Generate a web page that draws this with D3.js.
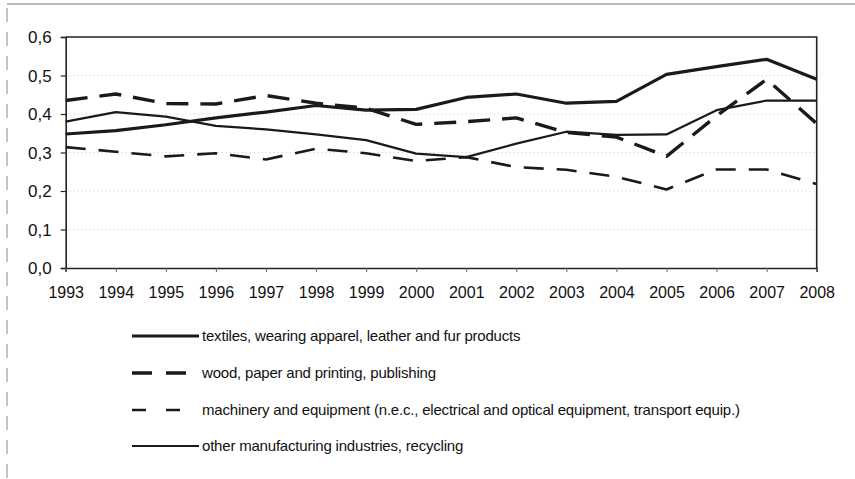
<!DOCTYPE html>
<html><head><meta charset="utf-8">
<script src="https://cdn.jsdelivr.net/npm/d3@7"></script>
<style>body{margin:0;background:#fff;} svg{display:block;font-family:Arial,"Liberation Sans",sans-serif;}</style>
</head><body>
<svg id="c" width="855" height="479"></svg>
<script>
const years = [1993,1994,1995,1996,1997,1998,1999,2000,2001,2002,2003,2004,2005,2006,2007,2008];
const textiles = [0.348,0.357,0.372,0.390,0.405,0.422,0.410,0.412,0.443,0.452,0.428,0.433,0.503,0.523,0.542,0.490];
const wood = [0.435,0.452,0.427,0.426,0.448,0.428,0.415,0.373,0.380,0.390,0.352,0.340,0.290,0.395,0.490,0.375];
const machinery = [0.314,0.302,0.290,0.298,0.282,0.310,0.298,0.278,0.288,0.262,0.255,0.237,0.204,0.256,0.256,0.218];
const other = [0.380,0.405,0.393,0.369,0.360,0.347,0.332,0.297,0.288,0.323,0.354,0.346,0.347,0.410,0.435,0.435];
const yTicks = [0,0.1,0.2,0.3,0.4,0.5,0.6];
const seriesNames = ["textiles, wearing apparel, leather and fur products","wood, paper and printing, publishing","machinery and equipment (n.e.c., electrical and optical equipment, transport equip.)","other manufacturing industries, recycling"];

const series = [
  {name:seriesNames[0], values:textiles, w:3.2, dash:null, ldash:null},
  {name:seriesNames[1], values:wood, w:3.4, dash:"22,12", ldash:"20,14"},
  {name:seriesNames[2], values:machinery, w:2.6, dash:"20,13", ldash:"14,20"},
  {name:seriesNames[3], values:other, w:2.2, dash:null, ldash:null}
];

const svg = d3.select("#c");
const L=65.7, R=816.7, T=37, B=268;
const x = d3.scaleLinear().domain([years[0], years[years.length-1]]).range([L,R]);
const y = d3.scaleLinear().domain([0,0.6]).range([B,T]);

// page frame artifacts
svg.append("line").attr("x1",7).attr("x2",855).attr("y1",4).attr("y2",4).attr("stroke","#777").attr("stroke-width",1.2);
svg.append("line").attr("x1",7).attr("x2",7).attr("y1",8).attr("y2",479).attr("stroke","#888").attr("stroke-width",1).attr("stroke-dasharray","14,10");

// gridlines
svg.append("g").selectAll("line").data(yTicks.filter(d=>d>0&&d<0.6)).join("line")
  .attr("x1",L).attr("x2",R).attr("y1",d=>y(d)).attr("y2",d=>y(d))
  .attr("stroke","#bbb").attr("stroke-width",0.8).attr("stroke-dasharray","1,3");

// frame top/right
svg.append("path").attr("d",`M${L},${T}H${R}V${B}`).attr("fill","none").attr("stroke","#222").attr("stroke-width",1.6);

// axes
const yAxis = d3.axisLeft(y).tickValues(yTicks).tickSize(5).tickPadding(9).tickFormat(d=>d3.format(".1f")(d).replace(".",","));
const gy = svg.append("g").attr("transform",`translate(${L},0)`).call(yAxis);
gy.select(".domain").attr("stroke","#222").attr("stroke-width",1.6);
gy.selectAll(".tick line").attr("stroke","#222").attr("stroke-width",1.2);
gy.selectAll("text").attr("font-size",17).attr("fill","#111").attr("font-family","Arial,'Liberation Sans',sans-serif").attr("dy","0.35em");

const xAxis = d3.axisBottom(x).tickValues(years).tickSize(4).tickPadding(15).tickFormat(d3.format("d"));
const gx = svg.append("g").attr("transform",`translate(0,${B})`).call(xAxis);
gx.select(".domain").attr("stroke","#222").attr("stroke-width",1.6);
gx.selectAll(".tick line").attr("stroke","#666").attr("stroke-width",1);
gx.selectAll("text").attr("font-size",16).attr("fill","#111").attr("font-family","Arial,'Liberation Sans',sans-serif");

// lines
const line = d3.line().x((d,i)=>x(years[i])).y(d=>y(d));
svg.append("g").selectAll("path").data(series).join("path")
  .attr("d",d=>line(d.values)).attr("fill","none").attr("stroke","#1a1a1a")
  .attr("stroke-width",d=>d.w).attr("stroke-dasharray",d=>d.dash).attr("stroke-linejoin","round");

// legend
const legY = [336,373,410,446];
const lg = svg.append("g").selectAll("g").data(series).join("g").attr("transform",(d,i)=>`translate(0,${legY[i]})`);
lg.append("line").attr("x1",132).attr("x2",199).attr("y1",0).attr("y2",0).attr("stroke","#1a1a1a")
  .attr("stroke-width",d=>d.w).attr("stroke-dasharray",d=>d.ldash);
lg.append("text").attr("x",202).attr("y",0).attr("dy","0.35em").attr("font-size",15).attr("fill","#111")
  .attr("letter-spacing",-0.2).text(d=>d.name);
</script>
</body></html>
